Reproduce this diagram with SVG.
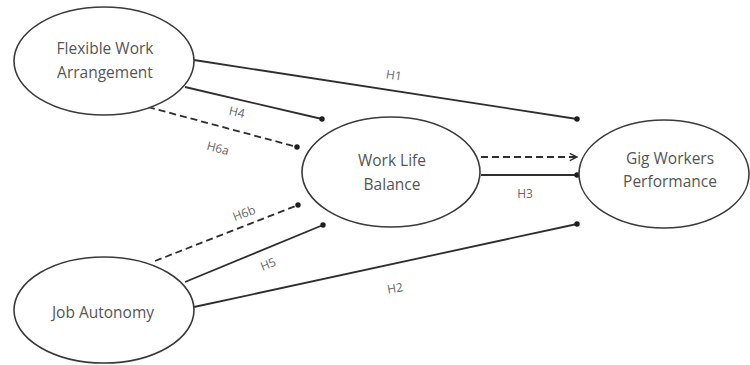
<svg xmlns="http://www.w3.org/2000/svg" width="750" height="365" viewBox="0 0 750 365">
  <style>
    .node ellipse { fill: #ffffff; stroke: #3a3a3a; stroke-width: 1.6; }
    .node text { font-family: "Open Sans", "Liberation Sans", sans-serif; font-size: 15.5px; fill: #555555; text-anchor: middle; dominant-baseline: central; }
    .edge { stroke: #2e2e2e; stroke-width: 1.8; fill: none; }
    .dash { stroke-dasharray: 7 4; }
    .lbl { font-family: "Open Sans", "Liberation Sans", sans-serif; font-size: 12px; fill: #666666; text-anchor: middle; dominant-baseline: central; }
  </style>
  <defs>
    <marker id="dot" viewBox="0 0 6 6" refX="3" refY="3" markerWidth="3" markerHeight="3" markerUnits="strokeWidth">
      <circle cx="3" cy="3" r="3" fill="#1e1e1e"/>
    </marker>
    <marker id="open" viewBox="0 0 10 10" refX="9" refY="5" markerWidth="5" markerHeight="5" orient="auto" markerUnits="strokeWidth">
      <path d="M1,1 L9,5 L1,9" fill="none" stroke="#2e2e2e" stroke-width="1.6"/>
    </marker>
  </defs>

  <rect width="750" height="365" fill="#ffffff"/>

  <!-- paths between constructs -->
  <g id="connectors">
    <line class="edge" x1="194" y1="60" x2="577" y2="119" marker-end="url(#dot)"/>
    <line class="edge" x1="185" y1="87" x2="322" y2="119" marker-end="url(#dot)"/>
    <line class="edge dash" x1="148" y1="107" x2="297" y2="147" marker-end="url(#dot)"/>
    <line class="edge dash" x1="481" y1="157" x2="577" y2="157" marker-end="url(#open)"/>
    <line class="edge" x1="481" y1="175" x2="577" y2="175" marker-end="url(#dot)"/>
    <line class="edge dash" x1="155" y1="261" x2="298" y2="205" marker-end="url(#dot)"/>
    <line class="edge" x1="185" y1="282" x2="323" y2="225" marker-end="url(#dot)"/>
    <line class="edge" x1="194" y1="307" x2="577" y2="224" marker-end="url(#dot)"/>

    <text class="lbl" transform="translate(394 75) rotate(9)">H1</text>
    <text class="lbl" transform="translate(237 112) rotate(13)">H4</text>
    <text class="lbl" transform="translate(218 148) rotate(15)">H6a</text>
    <text class="lbl" transform="translate(525 193)">H3</text>
    <text class="lbl" transform="translate(244 213) rotate(-21)">H6b</text>
    <text class="lbl" transform="translate(268 264) rotate(-22)">H5</text>
    <text class="lbl" transform="translate(395 288) rotate(-10)">H2</text>
  </g>

  <g id="flexible-work-arrangement" class="node">
    <ellipse cx="104" cy="61" rx="90" ry="54"/>
    <text x="105" y="48">Flexible Work</text>
    <text x="105" y="72">Arrangement</text>
  </g>

  <g id="work-life-balance" class="node">
    <ellipse cx="391" cy="172" rx="89" ry="55"/>
    <text x="392" y="160">Work Life</text>
    <text x="392" y="184">Balance</text>
  </g>

  <g id="gig-workers-performance" class="node">
    <ellipse cx="664" cy="174" rx="85" ry="54"/>
    <text x="670" y="158">Gig Workers</text>
    <text x="670" y="181">Performance</text>
  </g>

  <g id="job-autonomy" class="node">
    <ellipse cx="104" cy="310" rx="90" ry="53"/>
    <text x="103" y="312">Job Autonomy</text>
  </g>
</svg>
